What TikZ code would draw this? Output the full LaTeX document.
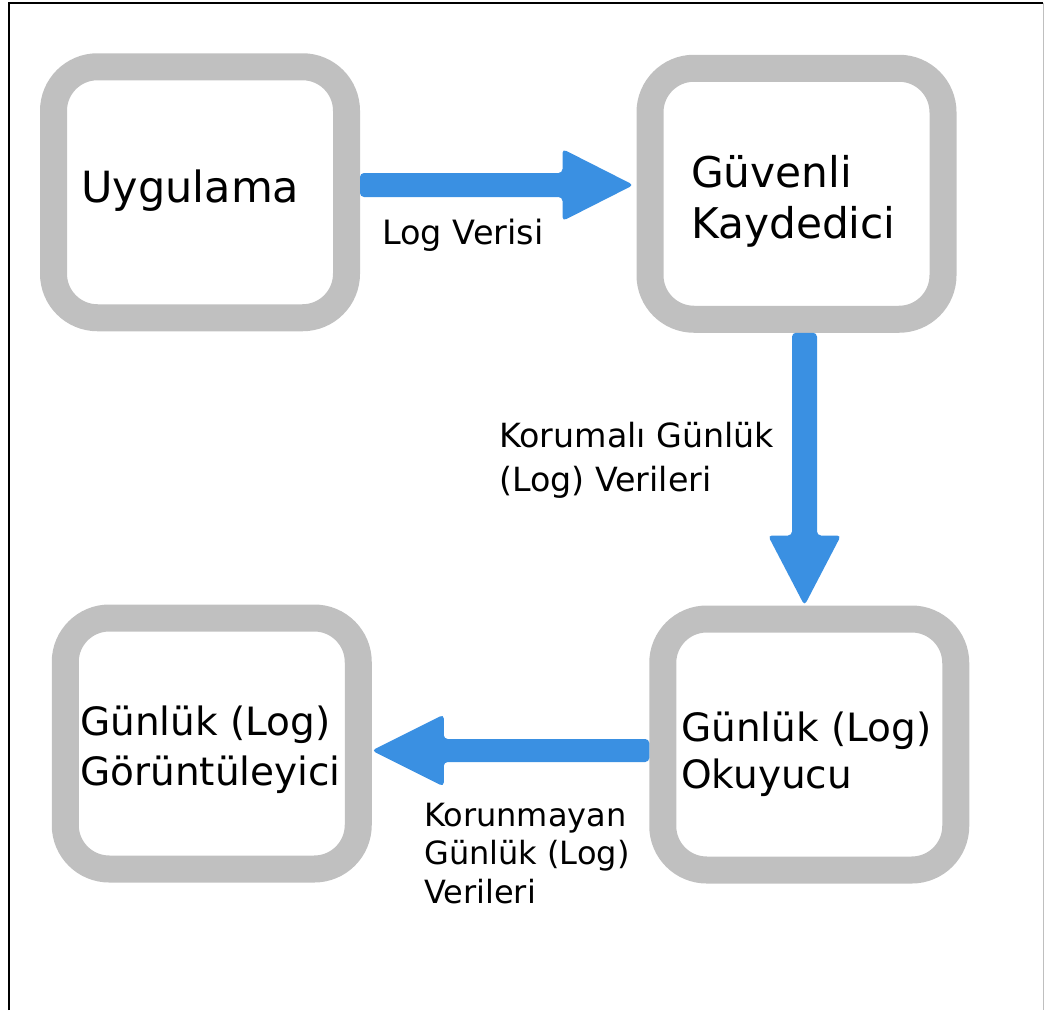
\documentclass[tikz,border=0pt]{standalone}
\usepackage{fontspec}
\setmainfont{DejaVu Sans}
\usetikzlibrary{calc}
\definecolor{frame}{HTML}{C0C0C0}
\definecolor{flowblue}{HTML}{3A90E2}
\begin{document}
\begin{tikzpicture}[x=1pt,y=1pt,
  block/.style={draw=frame, line width=27pt, rounded corners=44pt,
    minimum width=293pt, minimum height=251pt, inner sep=0pt, outer sep=13.5pt},
  % multi-line nodes: the base anchor sits on the last line
  boxtext/.style 2 args={anchor=base west, inner sep=0pt, align=left,
    font={\fontsize{#1}{#2}\selectfont}},
  flow/.style={fill=flowblue, rounded corners=4pt},
  edgetext/.style 2 args={anchor=base west, inner sep=0pt, align=left,
    font={\fontsize{#1}{#2}\selectfont}}]
  % page and its frame lines
  \useasboundingbox (0,0) rectangle (1044,-1010);
  \draw[line width=2pt] (8.5,-1010) -- (8.5,-2.5) -- (1043,-2.5);
  \draw[line width=1pt, black!25] (1043,-2.5) -- (1043,-1010);

  % the four stages
  \node[block] (u) at (200,-192.25) {};
  \node[block] (g) at (796.5,-193.75) {};
  \node[block] (o) at (809.25,-744.5) {};
  \node[block] (v) at (211.75,-743.5) {};

  \node[boxtext={43}{51}] (ut) at (81,-202) {Uygulama};
  \node[boxtext={42.3}{51.3}] (gt) at (691,-238.3) {Güvenli\\Kaydedici};
  \node[boxtext={39}{46.6}] (ot) at (681,-788.3) {Günlük (Log)\\Okuyucu};
  \node[boxtext={39}{50}] (vt) at (80,-785) {Günlük (Log)\\Görüntüleyici};

  % Uygulama -> Güvenli Kaydedici
  \coordinate (a1s) at (u.east |- 0,-185);
  \coordinate (a1e) at ($(g.west |- 0,-185)+(-3,0)$);
  \fill[flow] ($(a1s)+(0,12)$) -- ($(a1e)+(-71,12)$) -- ($(a1e)+(-71,36)$)
    -- (a1e) -- ($(a1e)+(-71,-36)$) -- ($(a1e)+(-71,-12)$) -- ($(a1s)+(0,-12)$) -- cycle;

  % Güvenli Kaydedici -> Günlük Okuyucu
  \coordinate (a2s) at (g.south -| 804.5,0);
  \coordinate (a2e) at (o.north -| 804.5,0);
  \fill[flow] ($(a2s)+(-12.5,0)$) -- ($(a2e)+(-12.5,70)$) -- ($(a2e)+(-36.5,70)$)
    -- (a2e) -- ($(a2e)+(36.5,70)$) -- ($(a2e)+(12.5,70)$) -- ($(a2s)+(12.5,0)$) -- cycle;

  % Günlük Okuyucu -> Günlük Görüntüleyici
  \coordinate (a3s) at (o.west |- 0,-750.5);
  \coordinate (a3e) at (v.east |- 0,-750.5);
  \fill[flow] ($(a3s)+(0,11.5)$) -- ($(a3e)+(72,11.5)$) -- ($(a3e)+(72,36)$)
    -- (a3e) -- ($(a3e)+(72,-36)$) -- ($(a3e)+(72,-11.5)$) -- ($(a3s)+(0,-11.5)$) -- cycle;

  % connector labels
  \node[edgetext={33.5}{40}] (lv) at (382,-244) {Log Verisi};
  \node[edgetext={33.3}{44.4}] (lk) at (499,-491.7) {Korumalı Günlük\\(Log) Verileri};
  \node[edgetext={32}{38.5}] (lu) at (424,-903) {Korunmayan\\Günlük (Log)\\Verileri};
\end{tikzpicture}
\end{document}
